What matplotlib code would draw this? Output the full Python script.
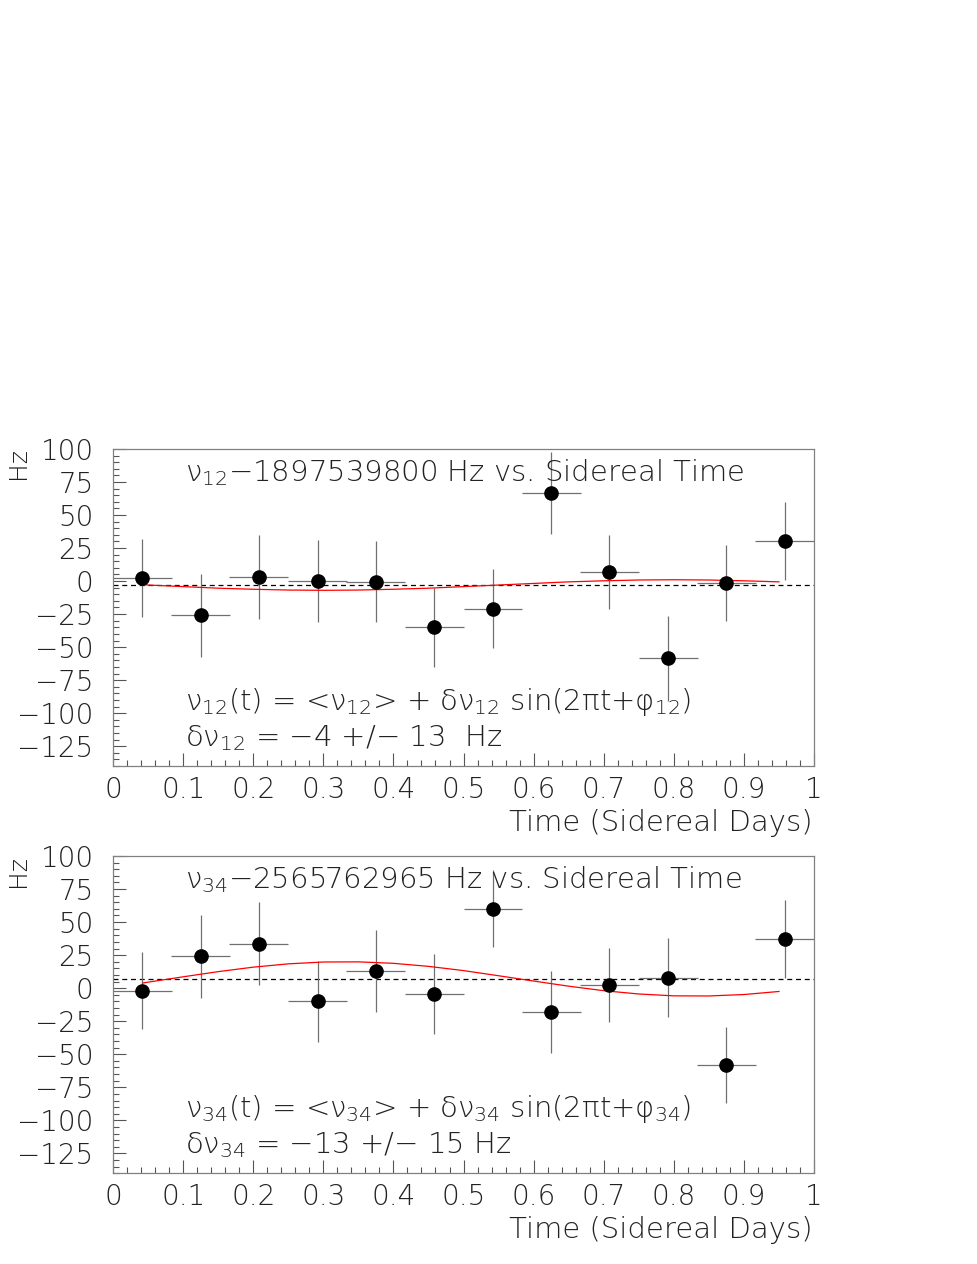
import matplotlib

matplotlib.use("Agg")
import matplotlib.pyplot as plt
from matplotlib.ticker import MultipleLocator, FixedLocator

# ---- data ----
t_bins = [0.042, 0.125, 0.208, 0.292, 0.375, 0.458, 0.542, 0.625, 0.708, 0.792, 0.875, 0.958]
t_halfwidth = [0.042] * 12

nu12 = [2, -26, 3, 0, -0.5, -35, -21, 67, 6.5, -58.5, -1.3, 30.3]
nu12_err = [29.5, 31.5, 31.5, 31, 30.5, 30, 30, 31, 28, 32, 28.7, 29.7]
nu12_mean = -3

nu34 = [-2, 24, 33.6, -10, 13, -4.3, 60.2, -18, 2.5, 8, -57.8, 37.1]
nu34_err = [29.2, 31.4, 31.4, 30.5, 30.7, 30, 29.2, 31, 28.2, 30, 28.8, 29.3]
nu34_mean = 7

# fitted sinusoids
fit_t = [0.042, 0.1, 0.15, 0.2, 0.25, 0.3, 0.35, 0.4, 0.45, 0.5,
         0.55, 0.6, 0.65, 0.7, 0.75, 0.8, 0.85, 0.9, 0.95]
fit12 = [-2.8, -4.2, -5.4, -6.2, -6.8, -7.0, -6.8, -6.2, -5.4, -4.2,
         -3.0, -1.8, -0.6, 0.2, 0.8, 1.0, 0.8, 0.2, -0.6]
fit34 = [3.9, 8.6, 12.5, 15.9, 18.4, 19.8, 19.9, 18.8, 16.5, 13.3,
         9.4, 5.4, 1.5, -1.9, -4.4, -5.8, -5.9, -4.8, -2.5]

x_ticks = [0, 0.1, 0.2, 0.3, 0.4, 0.5, 0.6, 0.7, 0.8, 0.9, 1]
x_ticklabels = ["0", "0.1", "0.2", "0.3", "0.4", "0.5", "0.6", "0.7", "0.8", "0.9", "1"]
y_ticks = [-125, -100, -75, -50, -25, 0, 25, 50, 75, 100]

titles = [
    r"$\nu_{12}$$-$1897539800 Hz vs. Sidereal Time",
    r"$\nu_{34}$$-$2565762965 Hz vs. Sidereal Time",
]
formulas = [
    r"$\nu_{12}$(t) = <$\nu_{12}$> + $\delta\nu_{12}$ sin(2$\pi$t+$\varphi_{12}$)",
    r"$\nu_{34}$(t) = <$\nu_{34}$> + $\delta\nu_{34}$ sin(2$\pi$t+$\varphi_{34}$)",
]
results = [
    r"$\delta\nu_{12}$ = $-$4 +/$-$ 13  Hz",
    r"$\delta\nu_{34}$ = $-$13 +/$-$ 15 Hz",
]

plt.rcParams["font.family"] = ["DejaVu Sans"]
plt.rcParams["font.weight"] = "light"
plt.rcParams["mathtext.fontset"] = "custom"
plt.rcParams["mathtext.rm"] = "DejaVu Sans:weight=light"
plt.rcParams["mathtext.it"] = "DejaVu Sans:weight=light"
plt.rcParams["mathtext.sf"] = "DejaVu Sans:weight=light"

fig = plt.figure(figsize=(9.77, 12.64), dpi=100)
axes = [
    fig.add_axes([0.1157, 0.3940, 0.7175, 0.2508]),
    fig.add_axes([0.1157, 0.0718, 0.7175, 0.2510]),
]
panels = [
    (nu12, nu12_err, nu12_mean, fit12),
    (nu34, nu34_err, nu34_mean, fit34),
]
frame = "#808080"
ink = "#222222"

for i, (ax, (vals, errs, mean, fit)) in enumerate(zip(axes, panels)):
    ax.axhline(mean, color="black", lw=0.9, ls=(0, (4, 3)), zorder=1)
    ax.errorbar(t_bins, vals, xerr=t_halfwidth, yerr=errs, fmt="none",
                ecolor="#707070", elinewidth=0.9, capsize=0, zorder=2)
    ax.plot(fit_t, fit, color="red", lw=0.9, zorder=3)
    ax.plot(t_bins, vals, "o", color="black", ms=9.5, zorder=4)

    ax.set_xlim(0, 1)
    ax.set_ylim(-140, 100)
    ax.xaxis.set_major_locator(FixedLocator(x_ticks))
    ax.set_xticklabels(x_ticklabels)
    ax.xaxis.set_minor_locator(MultipleLocator(0.02))
    ax.yaxis.set_major_locator(FixedLocator(y_ticks))
    ax.set_yticklabels([str(v).replace("-", "\u2212") for v in y_ticks])
    ax.yaxis.set_minor_locator(MultipleLocator(5))
    ax.tick_params(which="both", direction="in", top=False, right=False,
                   color="#555555", width=0.8)
    ax.tick_params(which="major", length=9.5, labelsize=20, labelcolor=ink)
    ax.tick_params(which="minor", length=4.5)
    ax.tick_params(axis="y", which="major", pad=14)
    ax.tick_params(axis="x", which="major", pad=7)
    for sp in ax.spines.values():
        sp.set_color(frame)
        sp.set_linewidth(0.9)

    ax.text(0.1027, 0.924, titles[i], transform=ax.transAxes, ha="left",
            va="center", fontsize=21, color=ink)
    ax.text(0.1027, 0.202, formulas[i], transform=ax.transAxes, ha="left",
            va="center", fontsize=21, color=ink)
    ax.text(0.1027, 0.088, results[i], transform=ax.transAxes, ha="left",
            va="center", fontsize=21, color=ink)
    ax.text(0.998, -0.18, "Time (Sidereal Days)", transform=ax.transAxes,
            ha="right", va="center", fontsize=21, color=ink)

fig.text(18 / 977, 1 - 463 / 1264, "Hz", rotation=90, ha="center", va="center",
         fontsize=18, color=ink)
fig.text(18 / 977, 1 - 871 / 1264, "Hz", rotation=90, ha="center", va="center",
         fontsize=18, color=ink)

fig.savefig("out.png", dpi=100)
